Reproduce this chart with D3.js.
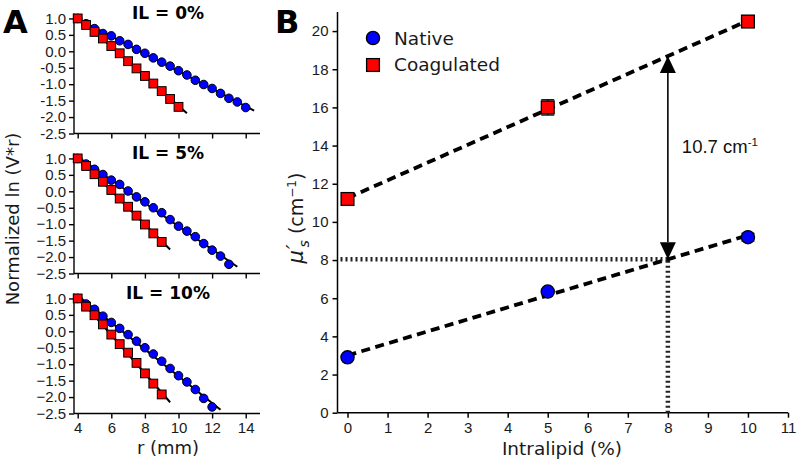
<!DOCTYPE html>
<html><head><meta charset="utf-8">
<script src="https://cdn.jsdelivr.net/npm/d3@7"></script>
<style>body{margin:0;background:#fff}svg{display:block}</style>
</head><body>
<script>
// ---------- Panel A data ----------
const panelTitles = ["IL = 0%", "IL = 5%", "IL = 10%"];
const il0NativeR = [4,4.5,5,5.5,6,6.5,7,7.5,8,8.5,9,9.5,10,10.5,11,11.5,12,12.5,13,13.5,14];
const il0NativeV = [1.0,0.84,0.69,0.54,0.47,0.32,0.21,0.06,-0.06,-0.20,-0.33,-0.45,-0.59,-0.72,-0.88,-1.01,-1.13,-1.28,-1.43,-1.54,-1.71];
const il0CoagR = [4,4.5,5,5.5,6,6.5,7,7.5,8,8.5,9,9.5,10];
const il0CoagV = [1.0,0.80,0.59,0.39,0.16,-0.06,-0.30,-0.52,-0.75,-0.98,-1.21,-1.45,-1.69];
const il5NativeR = [4,4.5,5,5.5,6,6.5,7,7.5,8,8.5,9,9.5,10,10.5,11,11.5,12,12.5,13];
const il5NativeV = [1.0,0.83,0.67,0.51,0.34,0.21,0.01,-0.17,-0.32,-0.50,-0.65,-0.86,-1.06,-1.21,-1.38,-1.59,-1.79,-1.97,-2.22];
const il5CoagR = [4,4.5,5,5.5,6,6.5,7,7.5,8,8.5,9];
const il5CoagV = [1.0,0.77,0.52,0.29,0.04,-0.22,-0.47,-0.74,-1.01,-1.28,-1.54];
const il10NativeR = [4,4.5,5,5.5,6,6.5,7,7.5,8,8.5,9,9.5,10,10.5,11,11.5,12];
const il10NativeV = [1.0,0.83,0.67,0.46,0.27,0.09,-0.10,-0.30,-0.50,-0.69,-0.91,-1.13,-1.35,-1.54,-1.77,-2.04,-2.30];
const il10CoagR = [4,4.5,5,5.5,6,6.5,7,7.5,8,8.5,9];
const il10CoagV = [1.0,0.75,0.49,0.21,-0.10,-0.39,-0.65,-0.96,-1.28,-1.59,-1.92];
const aYTicks = [1.0,0.5,0.0,-0.5,-1.0,-1.5,-2.0,-2.5];
const aXTicks = [4,6,8,10,12,14];

// ---------- Panel B data ----------
const intralipid = [0, 5, 10];
const nativeMu = [2.9, 6.35, 9.2];
const nativeErr = [0.08, 0.1, 0.2];
const coagMu = [11.2, 16.0, 20.5];
const coagErr = [0.1, 0.4, 0.3];
const bXTicks = [0,1,2,3,4,5,6,7,8,9,10,11];
const bYTicks = [0,2,4,6,8,10,12,14,16,18,20];
const targetIL = 8;
const diffLabel = "10.7 cm";

const W = 800, H = 463;
const svg = d3.select("body").append("svg").attr("width", W).attr("height", H)
  .style("font-family", "'DejaVu Sans', sans-serif");

const BLUE = "#0000ff", RED = "#ff0000";

function fit(xs, ys){
  const n = xs.length, mx = d3.mean(xs), my = d3.mean(ys);
  let sxy = 0, sxx = 0;
  for (let i=0;i<n;i++){ sxy += (xs[i]-mx)*(ys[i]-my); sxx += (xs[i]-mx)**2; }
  const b = sxy/sxx; return {b, a: my - b*mx, f: x => my - b*mx + b*x};
}

// ---------- Panel A ----------
const panelsA = [
  {t: panelTitles[0], nr: il0NativeR, nv: il0NativeV, cr: il0CoagR, cv: il0CoagV, minus: "-"},
  {t: panelTitles[1], nr: il5NativeR, nv: il5NativeV, cr: il5CoagR, cv: il5CoagV, minus: "\u2212"},
  {t: panelTitles[2], nr: il10NativeR, nv: il10NativeV, cr: il10CoagR, cv: il10CoagV, minus: "\u2212"}
];
const ax = d3.scaleLinear().domain([3.78, 14.85]).range([74, 260]);
panelsA.forEach((p, i) => {
  const off = i*140;
  const ay = d3.scaleLinear().domain([-2.5, 1.15]).range([133.5+off, 13.5+off]);
  const g = svg.append("g");
  const yAxis = d3.axisLeft(ay).tickValues(aYTicks).tickSize(5).tickPadding(3)
    .tickFormat(d => (d < 0 ? p.minus : "") + Math.abs(d).toFixed(1));
  const gy = g.append("g").attr("transform", `translate(74,0)`).call(yAxis);
  const xAxis = d3.axisBottom(ax).tickValues(aXTicks).tickSize(5).tickPadding(4)
    .tickFormat(i === 2 ? d3.format("d") : () => "");
  const gx = g.append("g").attr("transform", `translate(0,${ay(-2.5)})`).call(xAxis);
  [gx, gy].forEach(a => {
    a.select(".domain").attr("stroke", "#000").attr("stroke-width", 1.4);
    a.selectAll(".tick line").attr("stroke", "#000").attr("stroke-width", 1.4);
    a.selectAll(".tick text").attr("fill", "#1a1a1a").style("font-size", "15px");
  });
  gy.select(".domain").attr("d", `M0,${ay(1.15)}V${ay(-2.5)}`);
  gx.select(".domain").attr("d", `M${ax.range()[0]},0H${ax.range()[1]}`);
  // fit lines
  [[p.nr, p.nv], [p.cr, p.cv]].forEach(([xs, ys]) => {
    const f = fit(xs, ys);
    const x1 = d3.max(xs) + 0.5;
    g.append("line").attr("x1", ax(4)).attr("y1", ay(f.f(4)))
      .attr("x2", ax(x1)).attr("y2", ay(f.f(x1)))
      .attr("stroke", "#000").attr("stroke-width", 2);
  });
  g.selectAll("circle.n").data(p.nr.map((r,k)=>[r,p.nv[k]])).join("circle")
    .attr("cx", d => ax(d[0])).attr("cy", d => ay(d[1])).attr("r", 4.3)
    .attr("fill", BLUE).attr("stroke", "#000").attr("stroke-width", 1);
  g.selectAll("rect.c").data(p.cr.map((r,k)=>[r,p.cv[k]])).join("rect")
    .attr("x", d => ax(d[0]) - 4.4).attr("y", d => ay(d[1]) - 4.4)
    .attr("width", 8.8).attr("height", 8.8)
    .attr("fill", RED).attr("stroke", "#000").attr("stroke-width", 1);
  g.append("text").attr("x", 168).attr("y", 19+off).attr("text-anchor", "middle")
    .style("font-size", "17px").style("font-weight", "bold").text(p.t);
});
svg.append("text").attr("x", 168).attr("y", 454).attr("text-anchor", "middle")
  .style("font-size", "18px").attr("fill", "#1a1a1a").text("r (mm)");
svg.append("text").attr("transform", "translate(19,219) rotate(-90)").attr("text-anchor", "middle")
  .style("font-size", "18px").attr("fill", "#1a1a1a").text("Normalized ln (V*r)");
svg.append("text").attr("x", 3).attr("y", 33).style("font-size", "32px")
  .style("font-weight", "bold").text("A");

// ---------- Panel B ----------
const bx = d3.scaleLinear().domain([-0.25, 11]).range([337.5, 788]);
const by = d3.scaleLinear().domain([0, 21]).range([412.7, 12]);
const gB = svg.append("g");
const gbx = gB.append("g").attr("transform", `translate(0,${by(0)})`)
  .call(d3.axisBottom(bx).tickValues(bXTicks).tickSize(5).tickPadding(5).tickFormat(d3.format("d")));
const gby = gB.append("g").attr("transform", `translate(${bx(-0.25)},0)`)
  .call(d3.axisLeft(by).tickValues(bYTicks).tickSize(5).tickPadding(4).tickFormat(d3.format("d")));
[gbx, gby].forEach(a => {
  a.select(".domain").attr("stroke", "#000").attr("stroke-width", 1.5);
  a.selectAll(".tick line").attr("stroke", "#000").attr("stroke-width", 1.5);
  a.selectAll(".tick text").attr("fill", "#1a1a1a").style("font-size", "15px");
});
gby.select(".domain").attr("d", `M0,${by(21)}V${by(0)}`);
gbx.select(".domain").attr("d", `M${bx(-0.25)},0H${bx(11)}`);

const nf = fit(intralipid, nativeMu), cf = fit(intralipid, coagMu);
const yLow = nf.f(targetIL), yHigh = cf.f(targetIL);

// dotted guide lines
gB.append("line").attr("x1", bx(-0.25)+3).attr("x2", bx(targetIL)).attr("y1", by(yLow)).attr("y2", by(yLow))
  .attr("stroke", "#222").attr("stroke-width", 4.5).attr("stroke-dasharray", "2,3");
gB.append("line").attr("x1", bx(targetIL)).attr("x2", bx(targetIL)).attr("y1", by(0)).attr("y2", by(yLow))
  .attr("stroke", "#222").attr("stroke-width", 4.5).attr("stroke-dasharray", "2,3");

// dashed fit lines
[nf, cf].forEach(f => {
  gB.append("line").attr("x1", bx(0)).attr("y1", by(f.f(0))).attr("x2", bx(10)).attr("y2", by(f.f(10)))
    .attr("stroke", "#000").attr("stroke-width", 3.8).attr("stroke-dasharray", "9,5.5");
});

// double arrow
const axX = bx(targetIL), headL = 17, headW = 8;
gB.append("line").attr("x1", axX).attr("x2", axX).attr("y1", by(yHigh)+headL).attr("y2", by(yLow)-headL)
  .attr("stroke", "#000").attr("stroke-width", 1.6);
gB.append("path").attr("d", `M${axX},${by(yHigh)}L${axX-headW},${by(yHigh)+headL}L${axX+headW},${by(yHigh)+headL}Z`).attr("fill", "#000");
gB.append("path").attr("d", `M${axX},${by(yLow)}L${axX-headW},${by(yLow)-headL}L${axX+headW},${by(yLow)-headL}Z`).attr("fill", "#000");
const ann = gB.append("text").attr("x", axX+14).attr("y", 153)
  .style("font-family", "'Liberation Sans', Arial, sans-serif").style("font-size", "18.5px").attr("fill", "#111");
ann.append("tspan").text(diffLabel);
ann.append("tspan").attr("dy", -7).style("font-size", "11.5px").text("-1");

// error bars
function errBars(vals, errs){
  intralipid.forEach((x, k) => {
    const g = gB.append("g").attr("stroke", "#000").attr("stroke-width", 1.3);
    g.append("line").attr("x1", bx(x)).attr("x2", bx(x)).attr("y1", by(vals[k]-errs[k])).attr("y2", by(vals[k]+errs[k]));
    [vals[k]-errs[k], vals[k]+errs[k]].forEach(v => g.append("line")
      .attr("x1", bx(x)-6.5).attr("x2", bx(x)+6.5).attr("y1", by(v)).attr("y2", by(v)));
  });
}
errBars(nativeMu, nativeErr);
errBars(coagMu, coagErr);

gB.selectAll("circle.nb").data(intralipid.map((x,k)=>[x,nativeMu[k]])).join("circle")
  .attr("cx", d => bx(d[0])).attr("cy", d => by(d[1])).attr("r", 6.6)
  .attr("fill", BLUE).attr("stroke", "#000").attr("stroke-width", 1.3);
gB.selectAll("rect.cb").data(intralipid.map((x,k)=>[x,coagMu[k]])).join("rect")
  .attr("x", d => bx(d[0])-6.4).attr("y", d => by(d[1])-6.4).attr("width", 12.8).attr("height", 12.8)
  .attr("fill", RED).attr("stroke", "#000").attr("stroke-width", 1.3);

// legend
gB.append("circle").attr("cx", 373).attr("cy", 38).attr("r", 6.6).attr("fill", BLUE).attr("stroke", "#000").attr("stroke-width", 1.3);
gB.append("rect").attr("x", 366.6).attr("y", 58.6).attr("width", 12.8).attr("height", 12.8).attr("fill", RED).attr("stroke", "#000").attr("stroke-width", 1.3);
gB.append("text").attr("x", 394).attr("y", 44.5).style("font-size", "18.5px").attr("fill", "#1a1a1a").text("Native");
gB.append("text").attr("x", 394).attr("y", 71).style("font-size", "18.5px").attr("fill", "#1a1a1a").text("Coagulated");

// axis labels
gB.append("text").attr("x", 562).attr("y", 455).attr("text-anchor", "middle")
  .style("font-size", "18.5px").attr("fill", "#1a1a1a").text("Intralipid (%)");
const yl = gB.append("text").attr("transform", "translate(303,218) rotate(-90)").attr("text-anchor", "middle")
  .style("font-size", "19px").attr("fill", "#1a1a1a");
yl.append("tspan").style("font-style", "italic").style("font-size", "21px").text("\u03bc");
yl.append("tspan").style("font-style", "italic").style("font-size", "20px").attr("dx", 1).attr("dy", -3).text("\u2032");
yl.append("tspan").style("font-style", "italic").style("font-size", "14px").attr("dx", -3).attr("dy", 9).text("s");
yl.append("tspan").attr("dy", -6).text(" (cm");
yl.append("tspan").attr("dy", -7).style("font-size", "12px").text("\u22121");
yl.append("tspan").attr("dy", 7).text(")");

svg.append("text").attr("x", 275).attr("y", 33).style("font-size", "32px")
  .style("font-weight", "bold").text("B");
</script>
</body></html>
